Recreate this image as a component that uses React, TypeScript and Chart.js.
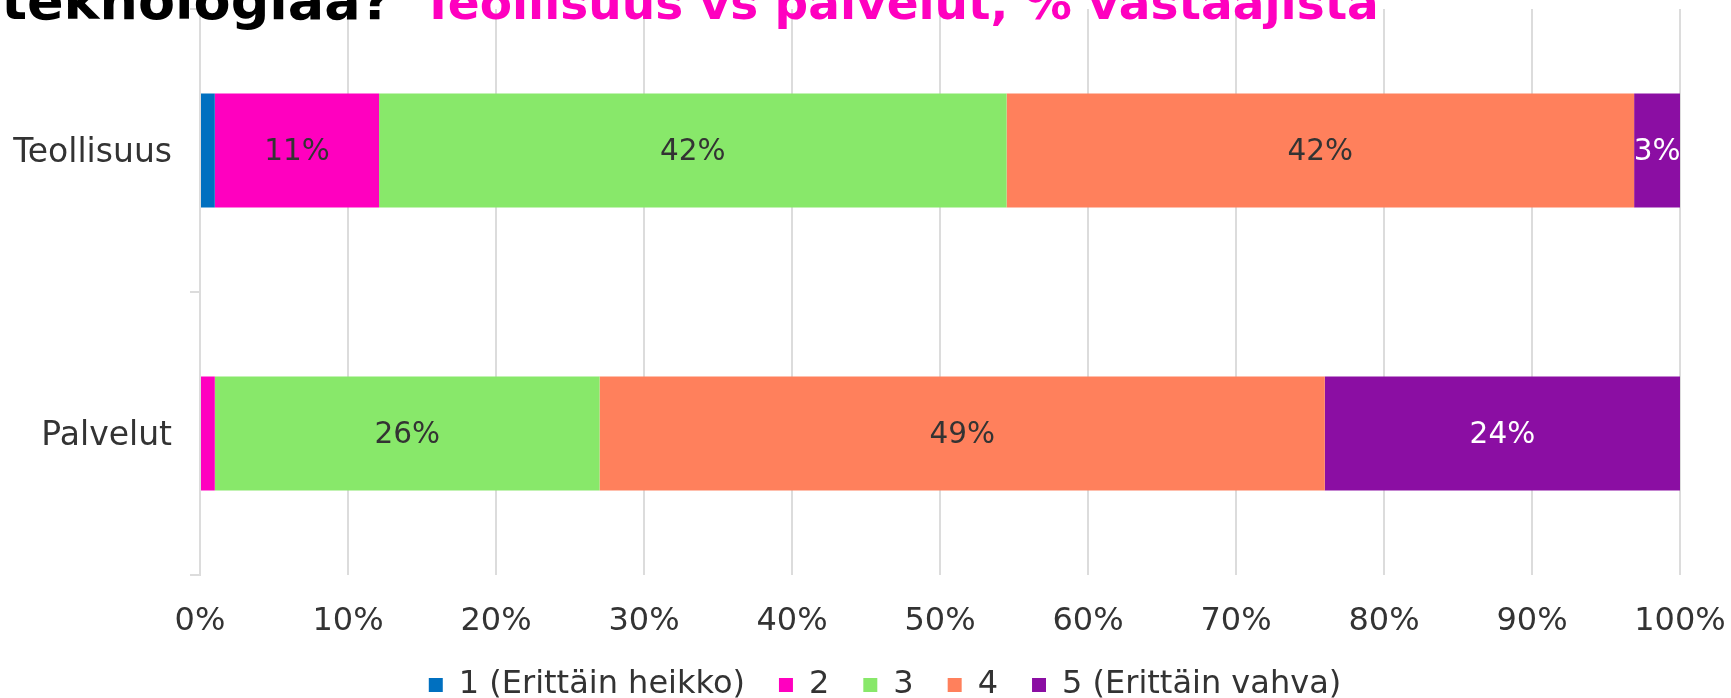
import React, { useEffect, useRef } from 'react';
import { Chart, registerables } from 'chart.js';

Chart.register(...registerables);

// ---- data ----
const categories = ['Teollisuus', 'Palvelut'];
const seriesNames = ['1 (Erittäin heikko)', '2', '3', '4', '5 (Erittäin vahva)'];
const series1 = [1.0, 0];
const series2 = [11.1, 1.0];
const series3 = [42.4, 26.0];
const series4 = [42.4, 49.0];
const series5 = [3.1, 24.0];
const seriesValues = [series1, series2, series3, series4, series5];
const xTickValues = [0, 10, 20, 30, 40, 50, 60, 70, 80, 90, 100];
const titleMain = 'teknologiaa?';
const titleSub = 'Teollisuus vs palvelut, % vastaajista';

// ---- styles ----
const colors = ['#0070C0', '#FF00BF', '#88E86A', '#FF805C', '#8B0EA3'];
const labelColors = ['#333333', '#333333', '#333333', '#333333', '#FFFFFF'];
const FONT = "'DejaVu Sans', Verdana, sans-serif";
const TEXT = '#333333';
const GRID = '#dcdcdc';

const dataLabelPlugin = {
  id: 'dataLabels',
  afterDatasetsDraw(chart: any) {
    const ctx = chart.ctx;
    ctx.save();
    ctx.font = `29.5px ${FONT}`;
    ctx.textAlign = 'center';
    ctx.textBaseline = 'middle';
    chart.data.datasets.forEach((ds: any, di: number) => {
      const meta = chart.getDatasetMeta(di);
      meta.data.forEach((el: any, i: number) => {
        const v = ds.data[i];
        if (v < 2) return;
        const p = el.getProps(['x', 'y', 'base'], true);
        ctx.fillStyle = labelColors[di];
        ctx.fillText(Math.round(v) + '%', (p.x + p.base) / 2, p.y + 2);
      });
    });
    ctx.restore();
  },
};

const legendShiftPlugin = {
  id: 'legendShift',
  afterLayout(chart: any) {
    const lg = chart.legend;
    if (lg) {
      lg.left += 45;
      lg.right += 45;
    }
  },
};

const titlePlugin = {
  id: 'splitTitle',
  afterDraw(chart: any) {
    const ctx = chart.ctx;
    ctx.save();
    ctx.textBaseline = 'alphabetic';
    ctx.font = `bold 54px ${FONT}`;
    ctx.fillStyle = '#000000';
    ctx.textAlign = 'right';
    ctx.fillText(titleMain, 392, 19);
    ctx.font = `bold 47px ${FONT}`;
    ctx.fillStyle = colors[1];
    ctx.textAlign = 'left';
    ctx.fillText(titleSub, 422, 19);
    ctx.restore();
  },
};

export default function App() {
  const ref = useRef<HTMLCanvasElement | null>(null);

  useEffect(() => {
    document.body.style.margin = '0';
    document.body.style.overflow = 'hidden';
    if (!ref.current) return;
    const chart = new Chart(ref.current, {
      type: 'bar',
      data: {
        labels: categories,
        datasets: seriesNames.map((name, i) => ({
          label: name,
          data: seriesValues[i],
          backgroundColor: colors[i],
          borderWidth: 0,
          barPercentage: 0.403,
          categoryPercentage: 1,
        })),
      },
      options: {
        indexAxis: 'y',
        animation: false,
        responsive: false,
        devicePixelRatio: 1,
        layout: { padding: { top: 9, right: 51, bottom: -13, left: 0 } },
        scales: {
          x: {
            stacked: true,
            min: 0,
            max: 100,
            afterBuildTicks: (scale: any) => {
              scale.ticks = xTickValues.map((v) => ({ value: v }));
            },
            afterFit: (scale: any) => {
              scale.height = 60;
              scale.paddingLeft = 0;
              scale.paddingRight = 0;
            },
            ticks: {
              callback: (v: any) => v + '%',
              color: TEXT,
              font: { family: FONT, size: 32 },
              padding: 27,
              maxRotation: 0,
            },
            grid: { color: GRID, lineWidth: 2, drawTicks: false },
            border: { display: false },
          },
          y: {
            stacked: true,
            afterFit: (scale: any) => {
              scale.width = 200;
              scale.paddingTop = 0;
              scale.paddingBottom = 0;
            },
            ticks: {
              color: TEXT,
              font: { family: FONT, size: 33 },
              padding: 18,
              labelOffset: 3,
            },
            grid: {
              offset: true,
              drawOnChartArea: false,
              drawTicks: true,
              tickLength: 10,
              color: GRID,
              lineWidth: 2,
            },
            border: { display: true, color: GRID, width: 2 },
          },
        },
        plugins: {
          legend: {
            position: 'bottom',
            labels: {
              boxWidth: 14,
              boxHeight: 14,
              padding: 34,
              color: TEXT,
              font: { family: FONT, size: 32 },
            },
          },
          title: { display: false },
          tooltip: { enabled: false },
        },
      },
      plugins: [dataLabelPlugin, legendShiftPlugin, titlePlugin],
    });
    return () => chart.destroy();
  }, []);

  return (
    <div style={{ width: 1731, height: 698, position: 'relative' }}>
      <canvas ref={ref} width={1731} height={698} style={{ display: 'block' }} />
    </div>
  );
}
